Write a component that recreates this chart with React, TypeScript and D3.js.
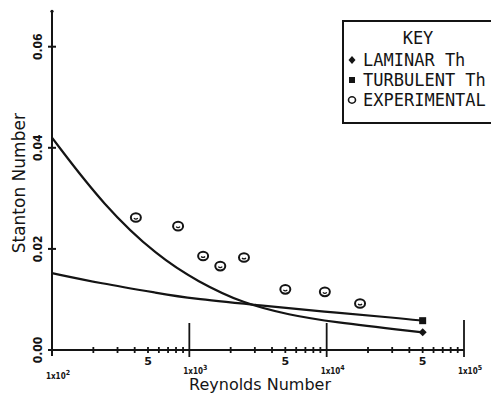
import React, { useEffect, useRef } from 'react';
import * as d3 from 'd3';

// values (Reynolds number, Stanton number)
const laminarRe = [100, 242, 591, 1157, 2470, 5410, 10570, 50000];
const laminarSt = [0.042, 0.0283, 0.0185, 0.0135, 0.0092, 0.0069, 0.0056, 0.0035];

const turbulentRe = [100, 224, 612, 1010, 3090, 9350, 34000, 50000];
const turbulentSt = [0.0152, 0.0132, 0.0112, 0.0102, 0.0089, 0.0076, 0.0063, 0.0058];

const expRe = [408, 828, 1260, 1680, 2500, 5000, 9700, 17500];
const expSt = [0.0262, 0.0245, 0.0186, 0.0166, 0.0183, 0.012, 0.0115, 0.0092];

const yTicks = [0, 0.02, 0.04, 0.06];
const yTickLabels = ['0.00', '0.02', '0.04', '0.06'];
const decades = [100, 1000, 10000, 100000];
const decadeExp = ['2', '3', '4', '5'];
const legendItems = ['LAMINAR Th', 'TURBULENT Th', 'EXPERIMENTAL'];

const INK = '#141414';

const App: React.FC = () => {
  const svgRef = useRef<SVGSVGElement>(null);

  useEffect(() => {
    if (!svgRef.current) return;
    const svg = d3.select(svgRef.current);
    svg.selectAll('*').remove();

    const x = d3.scaleLog().domain([100, 100000]).range([52, 464]);
    const y = d3.scaleLinear().domain([0, 0.06]).range([350, 46.7]);

    const g = svg.append('g');

    // y axis
    g.append('line')
      .attr('x1', x(100)).attr('x2', x(100))
      .attr('y1', y(0.067)).attr('y2', 356)
      .attr('stroke', INK).attr('stroke-width', 2);
    g.append('circle').attr('cx', x(100)).attr('cy', y(0.067)).attr('r', 1.6).attr('fill', INK);

    g.selectAll('.ytick').data(yTicks).enter().append('line')
      .attr('x1', x(100) - 4).attr('x2', x(100) + 4)
      .attr('y1', d => y(d)).attr('y2', d => y(d))
      .attr('stroke', INK).attr('stroke-width', 2);

    g.selectAll('.ylab').data(yTicks).enter().append('text')
      .attr('transform', d => `translate(42,${y(d)}) rotate(-90)`)
      .attr('text-anchor', 'middle')
      .style('font-family', 'DejaVu Sans Condensed, DejaVu Sans')
      .style('font-size', '12px').style('font-weight', 'bold')
      .attr('fill', INK)
      .text((d, i) => yTickLabels[i]);

    g.append('text')
      .attr('transform', `translate(25,${y(0.033)}) rotate(-90)`)
      .attr('text-anchor', 'middle')
      .style('font-family', 'DejaVu Sans')
      .style('font-size', '17px')
      .attr('fill', INK)
      .text('Stanton Number');

    // x axis
    g.append('line')
      .attr('x1', x(100)).attr('x2', x(100000))
      .attr('y1', y(0)).attr('y2', y(0))
      .attr('stroke', INK).attr('stroke-width', 2);

    const minor: number[] = [];
    [100, 1000, 10000].forEach(dec => {
      for (let k = 2; k <= 9; k++) minor.push(dec * k);
    });
    g.selectAll('.xminor').data(minor).enter().append('line')
      .attr('x1', d => x(d)).attr('x2', d => x(d))
      .attr('y1', y(0) - 3).attr('y2', y(0) + 3)
      .attr('stroke', INK).attr('stroke-width', 1.8);

    g.selectAll('.xmajor').data(decades.slice(1)).enter().append('line')
      .attr('x1', d => x(d)).attr('x2', d => x(d))
      .attr('y1', (d, i) => (i === 2 ? 320 : 323)).attr('y2', 357)
      .attr('stroke', INK).attr('stroke-width', 1.8);

    g.selectAll('.five').data([500, 5000, 50000]).enter().append('text')
      .attr('x', d => x(d)).attr('y', 365)
      .attr('text-anchor', 'middle')
      .style('font-family', 'DejaVu Sans')
      .style('font-size', '11px').style('font-weight', 'bold')
      .attr('fill', INK)
      .text('5');

    g.selectAll('.declab').data(decades).enter().append('text')
      .attr('x', d => x(d) + 6).attr('y', (d, i) => (i === 0 ? 379 : 374))
      .attr('text-anchor', 'middle')
      .style('font-family', 'DejaVu Sans Condensed, DejaVu Sans')
      .style('font-size', '8px').style('font-weight', 'bold')
      .attr('fill', INK)
      .html((d, i) => `1x10<tspan dy="-4" font-size="7">${decadeExp[i]}</tspan>`);

    g.append('text')
      .attr('x', 260).attr('y', 390)
      .attr('text-anchor', 'middle')
      .style('font-family', 'DejaVu Sans')
      .style('font-size', '16px')
      .attr('fill', INK)
      .text('Reynolds Number');

    // curves
    const line = d3.line<[number, number]>()
      .x(d => x(d[0])).y(d => y(d[1]))
      .curve(d3.curveBasis);

    g.append('path')
      .datum(laminarRe.map((r, i) => [r, laminarSt[i]] as [number, number]))
      .attr('d', line).attr('fill', 'none')
      .attr('stroke', INK).attr('stroke-width', 2.2);

    g.append('path')
      .datum(turbulentRe.map((r, i) => [r, turbulentSt[i]] as [number, number]))
      .attr('d', line).attr('fill', 'none')
      .attr('stroke', INK).attr('stroke-width', 2.2);

    // end markers
    const lx = x(laminarRe[laminarRe.length - 1]);
    const ly = y(laminarSt[laminarSt.length - 1]);
    g.append('path')
      .attr('d', `M${lx},${ly - 4}L${lx + 4},${ly}L${lx},${ly + 4}L${lx - 4},${ly}Z`)
      .attr('fill', INK);
    const tx = x(turbulentRe[turbulentRe.length - 1]);
    const ty = y(turbulentSt[turbulentSt.length - 1]);
    g.append('rect')
      .attr('x', tx - 3.5).attr('y', ty - 3.5).attr('width', 7).attr('height', 7)
      .attr('fill', INK);

    // experimental points
    const pts = g.selectAll('.exp').data(expRe).enter().append('g')
      .attr('transform', (d, i) => `translate(${x(d)},${y(expSt[i])})`);
    pts.append('ellipse').attr('rx', 5).attr('ry', 4.3)
      .attr('fill', 'none').attr('stroke', INK).attr('stroke-width', 2);
    pts.append('path').attr('d', 'M-2,0.5Q0,2.5 2,0.5')
      .attr('fill', 'none').attr('stroke', INK).attr('stroke-width', 1.2);

    // legend
    const lg = g.append('g');
    lg.append('rect')
      .attr('x', 343).attr('y', 21).attr('width', 170).attr('height', 102)
      .attr('fill', 'white').attr('stroke', INK).attr('stroke-width', 2);
    lg.append('text')
      .attr('x', 418).attr('y', 44)
      .attr('text-anchor', 'middle')
      .style('font-family', 'DejaVu Sans Mono')
      .style('font-size', '17px')
      .attr('fill', INK)
      .text('KEY');
    lg.selectAll('.li').data(legendItems).enter().append('text')
      .attr('x', 363).attr('y', (d, i) => 66 + i * 20)
      .style('font-family', 'DejaVu Sans Mono')
      .style('font-size', '17px')
      .attr('fill', INK)
      .text(d => d);
    lg.append('path').attr('d', 'M352,56L355.5,60L352,64L348.5,60Z').attr('fill', INK);
    lg.append('rect').attr('x', 349).attr('y', 77).attr('width', 6).attr('height', 6).attr('fill', INK);
    lg.append('ellipse').attr('cx', 352).attr('cy', 100).attr('rx', 3.5).attr('ry', 3.2)
      .attr('fill', 'none').attr('stroke', INK).attr('stroke-width', 1.6);
  }, []);

  return (
    <div style={{ position: 'fixed', left: 0, top: 0 }}>
      <svg ref={svgRef} width={491} height={395} style={{ display: 'block', background: 'white' }} />
    </div>
  );
};

export default App;
